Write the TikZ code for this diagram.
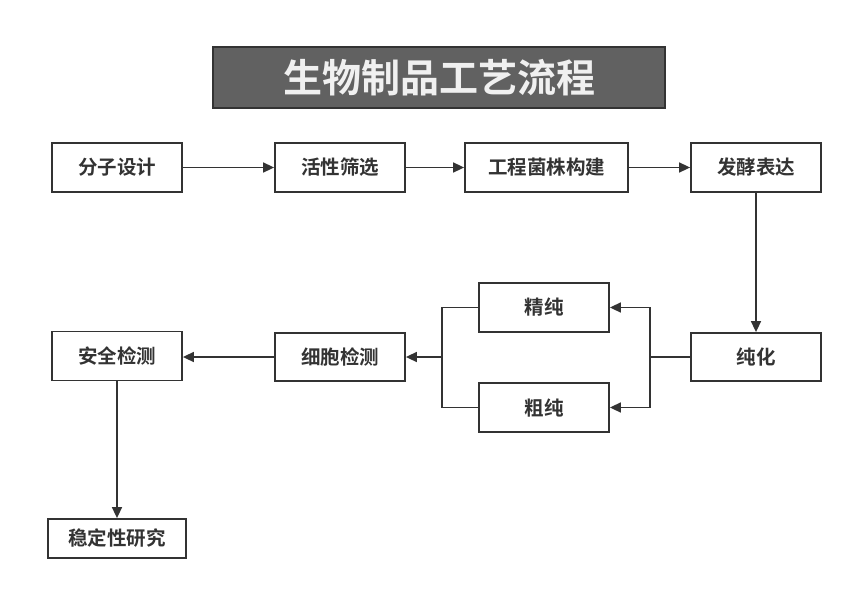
\documentclass[tikz,border=0pt]{standalone}
\usepackage{fontspec}
\newfontfamily\cjk{Noto Sans CJK SC Bold}
\usetikzlibrary{arrows.meta}
\definecolor{ln}{HTML}{333333}
\definecolor{tfill}{HTML}{616161}
\begin{document}
\begin{tikzpicture}[x=1pt,y=-1pt,
  box/.style={draw=ln,line width=1.8pt,fill=white,inner sep=0pt,font=\cjk\fontsize{19.5}{19.5}\selectfont,text=ln},
  conn/.style={draw=ln,line width=1.6pt},
  arr/.style={conn,-{Triangle[length=11pt,width=10pt]}}]
\useasboundingbox (0,0) rectangle (852,589);
\node[draw=ln,line width=1.8pt,fill=tfill,minimum width=452pt,minimum height=61pt,inner sep=0pt,text=white!94!black,font=\cjk\fontsize{39}{39}\selectfont] (title) at (439,77.5) {生物制品工艺流程};
\node[box,minimum width=130pt,minimum height=49pt] (a) at (117,167.5) {分子设计};
\node[box,minimum width=130pt,minimum height=49pt] (b) at (340,167.5) {活性筛选};
\node[box,minimum width=163pt,minimum height=49pt] (c) at (546.5,167.5) {工程菌株构建};
\node[box,minimum width=130pt,minimum height=49pt] (d) at (756,167.5) {发酵表达};
\node[box,minimum width=130pt,minimum height=48pt] (e) at (756,357) {纯化};
\node[box,minimum width=130pt,minimum height=49pt] (f) at (544,307.5) {精纯};
\node[box,minimum width=130pt,minimum height=49pt] (g) at (544,407.5) {粗纯};
\node[box,minimum width=130pt,minimum height=48pt] (h) at (340,357) {细胞检测};
\node[box,minimum width=130pt,minimum height=49pt] (i) at (117,356) {安全检测};
\node[box,minimum width=138pt,minimum height=39pt] (j) at (117,538.5) {稳定性研究};
\coordinate (sr) at (650,357);
\coordinate (sl) at (442,357);
\draw[arr] (a) -- (b);
\draw[arr] (b) -- (c);
\draw[arr] (c) -- (d);
\draw[arr] (d) -- (e);
\draw[conn] (e.west) -- (sr);
\draw[arr] (sr) |- (f.east);
\draw[arr] (sr) |- (g.east);
\draw[conn] (f.west) -| (sl);
\draw[conn] (g.west) -| (sl);
\draw[arr] (sl) -- (h.east);
\draw[arr] (h.west) -- (h.west -| i.east);
\draw[arr] (i) -- (j);
\end{tikzpicture}
\end{document}
